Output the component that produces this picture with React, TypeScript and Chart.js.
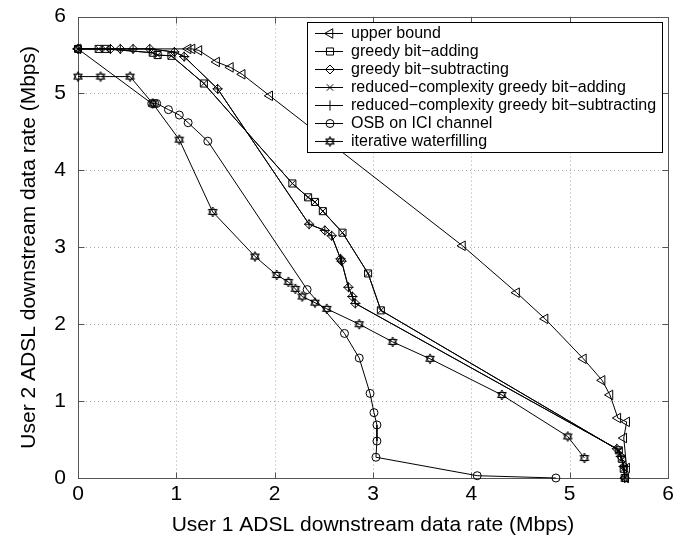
import React, { useEffect, useRef } from 'react';
import { Chart, registerables } from 'chart.js';
import { drawPoint } from 'chart.js/helpers';

Chart.register(...registerables);

// ---------- data ----------
const tickValues = [0, 1, 2, 3, 4, 5, 6];

const upperX = [0, 1.12, 1.16, 1.23, 1.41, 1.55, 1.67, 1.95, 3.91, 4.46, 4.75, 5.14, 5.33, 5.41, 5.49, 5.58, 5.55, 5.58, 5.57];
const upperY = [5.58, 5.58, 5.58, 5.56, 5.41, 5.34, 5.25, 4.97, 3.02, 2.41, 2.07, 1.55, 1.27, 1.08, 0.78, 0.73, 0.52, 0.13, 0.0];

const addX = [0, 0.21, 0.28, 0.76, 0.81, 0.95, 1.28, 2.18, 2.34, 2.41, 2.49, 2.69, 2.95, 3.08, 5.50, 5.53, 5.55, 5.56];
const addY = [5.58, 5.58, 5.58, 5.53, 5.50, 5.49, 5.13, 3.83, 3.65, 3.59, 3.47, 3.19, 2.66, 2.18, 0.36, 0.25, 0.12, 0.0];

const subX = [0, 0.33, 0.43, 0.56, 0.73, 0.98, 1.08, 1.42, 2.35, 2.51, 2.58, 2.67, 2.68, 2.75, 2.79, 2.82, 5.48, 5.52, 5.55, 5.56];
const subY = [5.58, 5.58, 5.58, 5.58, 5.58, 5.54, 5.48, 5.06, 3.30, 3.22, 3.15, 2.85, 2.82, 2.48, 2.36, 2.27, 0.38, 0.28, 0.15, 0.0];

const rcAddX = [0, 0.21, 0.28, 0.76, 0.81, 0.95, 1.28, 2.18, 2.34, 2.41, 2.49, 2.69, 2.95, 3.08, 5.50, 5.53, 5.55, 5.56];
const rcAddY = [5.58, 5.58, 5.58, 5.53, 5.50, 5.49, 5.13, 3.83, 3.65, 3.59, 3.47, 3.19, 2.66, 2.18, 0.36, 0.25, 0.12, 0.0];

const rcSubX = [0, 0.33, 0.43, 0.56, 0.73, 0.98, 1.08, 1.42, 2.35, 2.51, 2.58, 2.67, 2.68, 2.75, 2.79, 2.82, 5.48, 5.52, 5.55, 5.56];
const rcSubY = [5.58, 5.58, 5.58, 5.58, 5.58, 5.54, 5.48, 5.06, 3.30, 3.22, 3.15, 2.85, 2.82, 2.48, 2.36, 2.27, 0.38, 0.28, 0.15, 0.0];

const osbX = [0, 0.75, 0.78, 0.80, 0.92, 1.03, 1.12, 1.32, 2.33, 2.71, 2.86, 2.97, 3.01, 3.04, 3.04, 3.03, 4.06, 4.86];
const osbY = [5.58, 4.87, 4.87, 4.87, 4.79, 4.72, 4.62, 4.38, 2.45, 1.88, 1.56, 1.10, 0.85, 0.69, 0.48, 0.27, 0.03, 0.0];

const iwfX = [0, 0.23, 0.53, 0.76, 1.03, 1.37, 1.80, 2.02, 2.14, 2.21, 2.28, 2.41, 2.53, 2.86, 3.20, 3.58, 4.31, 4.98, 5.15];
const iwfY = [5.22, 5.22, 5.22, 4.87, 4.40, 3.46, 2.88, 2.64, 2.55, 2.46, 2.36, 2.28, 2.20, 2.00, 1.77, 1.55, 1.08, 0.54, 0.26];

const seriesLabels = [
  'upper bound',
  'greedy bit\u2212adding',
  'greedy bit\u2212subtracting',
  'reduced\u2212complexity greedy bit\u2212adding',
  'reduced\u2212complexity greedy bit\u2212subtracting',
  'OSB on ICI channel',
  'iterative waterfilling',
];
const seriesX = [upperX, addX, subX, rcAddX, rcSubX, osbX, iwfX];
const seriesY = [upperY, addY, subY, rcAddY, rcSubY, osbY, iwfY];

const xTitle = 'User 1 ADSL downstream data rate (Mbps)';
const yTitle = 'User 2 ADSL downstream data rate (Mbps)';

// ---------- styles ----------
const FONT = '"Liberation Sans", Arial, Helvetica, sans-serif';

function makeHexagram(): HTMLCanvasElement {
  const c = document.createElement('canvas');
  c.width = 12;
  c.height = 12;
  const g = c.getContext('2d')!;
  g.strokeStyle = '#000';
  g.lineWidth = 1;
  const cx = 6, cy = 6, r = 5;
  for (const off of [-Math.PI / 2, Math.PI / 2]) {
    g.beginPath();
    for (let k = 0; k < 3; k++) {
      const a = off + (k * 2 * Math.PI) / 3;
      const px = cx + r * Math.cos(a);
      const py = cy + r * Math.sin(a);
      if (k === 0) g.moveTo(px, py);
      else g.lineTo(px, py);
    }
    g.closePath();
    g.stroke();
  }
  return c;
}

type MarkerStyle = { pointStyle: any; radius: number; rotation: number };

function getMarkers(): MarkerStyle[] {
  const hex = makeHexagram();
  return [
    { pointStyle: 'triangle', radius: 5.5, rotation: -90 },
    { pointStyle: 'rect', radius: 5, rotation: 0 },
    { pointStyle: 'rectRot', radius: 4.5, rotation: 0 },
    { pointStyle: 'crossRot', radius: 4.5, rotation: 0 },
    { pointStyle: 'cross', radius: 5, rotation: 0 },
    { pointStyle: 'circle', radius: 4, rotation: 0 },
    { pointStyle: hex, radius: 5, rotation: 0 },
  ];
}

const framePlugin = {
  id: 'frameGrid',
  beforeDatasetsDraw(chart: any) {
    const { ctx, chartArea } = chart;
    const { left, right, top, bottom } = chartArea;
    const xs = chart.scales.x;
    const ys = chart.scales.y;
    ctx.save();
    ctx.lineWidth = 1;
    ctx.strokeStyle = '#a8a8a8';
    ctx.setLineDash([1, 3]);
    for (const v of tickValues) {
      if (v === 0 || v === 6) continue;
      const px = Math.round(xs.getPixelForValue(v)) + 0.5;
      ctx.beginPath();
      ctx.moveTo(px, top);
      ctx.lineTo(px, bottom);
      ctx.stroke();
      const py = Math.round(ys.getPixelForValue(v)) + 0.5;
      ctx.beginPath();
      ctx.moveTo(left, py);
      ctx.lineTo(right, py);
      ctx.stroke();
    }
    ctx.setLineDash([]);
    ctx.strokeStyle = '#555';
    const l = Math.round(left) + 0.5, r = Math.round(right) + 0.5;
    const t = Math.round(top) + 0.5, b = Math.round(bottom) + 0.5;
    ctx.strokeRect(l, t, r - l, b - t);
    const tl = 6;
    for (const v of tickValues) {
      if (v === 0 || v === 6) continue;
      const px = Math.round(xs.getPixelForValue(v)) + 0.5;
      ctx.beginPath();
      ctx.moveTo(px, b);
      ctx.lineTo(px, b - tl);
      ctx.moveTo(px, t);
      ctx.lineTo(px, t + tl);
      ctx.stroke();
      const py = Math.round(ys.getPixelForValue(v)) + 0.5;
      ctx.beginPath();
      ctx.moveTo(l, py);
      ctx.lineTo(l + tl, py);
      ctx.moveTo(r, py);
      ctx.lineTo(r - tl, py);
      ctx.stroke();
    }
    ctx.restore();
  },
};

function makeLegendPlugin(markers: MarkerStyle[]) {
  return {
    id: 'insideLegend',
    afterDatasetsDraw(chart: any) {
      const { ctx } = chart;
      ctx.save();
      const bx = 307.5, by = 22.5, bw = 355, bh = 130;
      ctx.fillStyle = '#fff';
      ctx.fillRect(bx, by, bw, bh);
      ctx.strokeStyle = '#000';
      ctx.lineWidth = 1;
      ctx.strokeRect(bx, by, bw, bh);
      ctx.font = `16px ${FONT}`;
      ctx.textBaseline = 'middle';
      ctx.textAlign = 'left';
      seriesLabels.forEach((label, i) => {
        const y = 33 + i * 18;
        ctx.strokeStyle = '#000';
        ctx.lineWidth = 1;
        ctx.beginPath();
        ctx.moveTo(315, y + 0.5);
        ctx.lineTo(343, y + 0.5);
        ctx.stroke();
        ctx.fillStyle = 'rgba(0,0,0,0)';
        const m = markers[i];
        drawPoint(ctx, { pointStyle: m.pointStyle, rotation: m.rotation, radius: m.radius, borderWidth: 1 } as any, 330, y + 0.5);
        ctx.fillStyle = '#000';
        ctx.fillText(label, 351, y + 1);
      });
      ctx.restore();
    },
  };
}

export default function App() {
  const canvasRef = useRef<HTMLCanvasElement | null>(null);

  useEffect(() => {
    const canvas = canvasRef.current;
    if (!canvas) return;
    const markers = getMarkers();
    const datasets = seriesLabels.map((label, i) => ({
      label,
      data: seriesX[i].map((x, k) => ({ x, y: seriesY[i][k] })),
      showLine: true,
      borderColor: '#000',
      borderWidth: 1,
      backgroundColor: 'rgba(0,0,0,0)',
      pointBorderColor: '#000',
      pointBackgroundColor: 'rgba(0,0,0,0)',
      pointBorderWidth: 1,
      pointStyle: markers[i].pointStyle,
      pointRadius: markers[i].radius,
      pointRotation: markers[i].rotation,
      pointHoverRadius: markers[i].radius,
      tension: 0,
      clip: 6,
    }));

    const tickFont = { family: FONT, size: 21 };
    const chart = new Chart(canvas, {
      type: 'scatter',
      data: { datasets: datasets as any },
      options: {
        animation: false,
        responsive: false,
        maintainAspectRatio: false,
        events: [],
        layout: { padding: { top: 15, right: 17, left: 0, bottom: 0 } },
        plugins: {
          legend: { display: false },
          tooltip: { enabled: false },
          title: { display: false },
        },
        scales: {
          x: {
            type: 'linear',
            min: 0,
            max: 6,
            afterBuildTicks: (scale: any) => {
              scale.ticks = tickValues.map((v) => ({ value: v }));
            },
            afterFit: (scale: any) => {
              scale.height = 62;
            },
            grid: { display: false },
            border: { display: false },
            ticks: {
              font: tickFont,
              color: '#000',
              padding: -4,
              maxRotation: 0,
              callback: (v: any) => String(v),
            },
            title: {
              display: true,
              text: xTitle,
              font: { family: FONT, size: 21 },
              color: '#000',
              padding: { top: 0, bottom: 2 },
            },
          },
          y: {
            type: 'linear',
            min: 0,
            max: 6,
            afterBuildTicks: (scale: any) => {
              scale.ticks = tickValues.map((v) => ({ value: v }));
            },
            afterFit: (scale: any) => {
              scale.width = 78;
            },
            grid: { display: false },
            border: { display: false },
            ticks: {
              font: tickFont,
              color: '#000',
              padding: 4,
              callback: (v: any) => String(v),
            },
            title: {
              display: true,
              text: yTitle,
              font: { family: FONT, size: 21 },
              color: '#000',
              padding: { top: 17, bottom: 0 },
            },
          },
        },
      },
      plugins: [framePlugin, makeLegendPlugin(markers)],
    });
    return () => chart.destroy();
  }, []);

  return (
    <div style={{ position: 'fixed', left: 0, top: 0, width: 685, height: 540, background: '#fff' }}>
      <canvas ref={canvasRef} width={685} height={540} style={{ width: 685, height: 540, display: 'block' }} />
    </div>
  );
}
